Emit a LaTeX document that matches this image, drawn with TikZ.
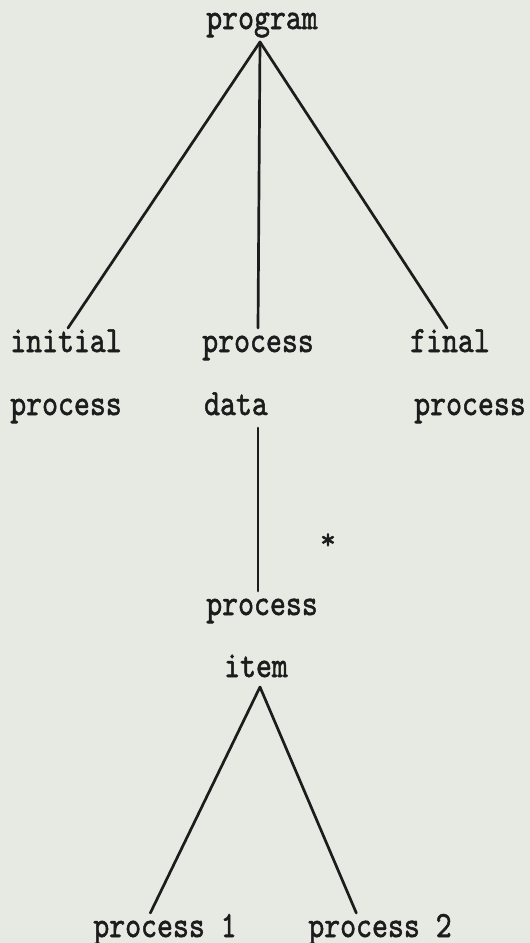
\documentclass[tikz,border=0pt]{standalone}
\usepackage{graphicx}
\usepackage{fontspec}
\setmonofont{lmmono10-regular.otf}[FakeBold=1.6]
\definecolor{paper}{HTML}{E6EAE2}
\definecolor{ink}{HTML}{1C1C1C}
\newcommand\tw[1]{\scalebox{0.82}[1]{#1}}
\tikzset{
  lbl/.style={anchor=base, inner sep=0pt, outer sep=2pt, text=ink,
    font=\fontsize{37}{37}\selectfont\ttfamily, text height=22pt, text depth=8pt},
  conn/.style={draw=ink, line width=2.7pt, line cap=round}
}
\begin{document}
\begin{tikzpicture}[x=1pt,y=-1pt]
\fill[paper] (0,0) rectangle (530,943);
\useasboundingbox (0,0) rectangle (530,943);
% labels
\node[lbl] (program) at (262,29) {\tw{program}};
\node[lbl] (initial) at (66,352) {\tw{initial}};
\node[lbl] (procdata) at (258,352) {\tw{process}};
\node[lbl] (final) at (450,352) {\tw{final}};
\node[lbl] (initproc) at (66,415) {\tw{process}};
\node[lbl] (data) at (236,415) {\tw{data}};
\node[lbl] (finproc) at (470,415) {\tw{process}};
\node[lbl] (procitem) at (262,615) {\tw{process}};
\node[lbl] (item) at (256,677) {\tw{item}};
\node[lbl] (p1) at (165,937) {\tw{process 1}};
\node[lbl] (p2) at (380,937) {\tw{process 2}};
\node[anchor=base, inner sep=0pt, text=ink, font=\fontsize{30}{30}\selectfont\ttfamily] (star) at (328,549) {*};
% connectors
\coordinate (apex) at ([xshift=-2pt,yshift=-3pt]program.south);
\draw[conn] (apex) -- ([xshift=2pt]initial.north);
\draw[conn] (apex) -- (procdata.north);
\draw[conn] (apex) -- ([xshift=-3pt]final.north);
\draw[conn] ([xshift=22pt,yshift=-3pt]data.south) -- ([xshift=-4pt]procitem.north);
\coordinate (apex2) at ([xshift=4pt]item.south);
\draw[conn] (apex2) -- ([xshift=59pt]p1.north west);
\draw[conn] (apex2) -- ([xshift=50pt]p2.north west);
\end{tikzpicture}
\end{document}
